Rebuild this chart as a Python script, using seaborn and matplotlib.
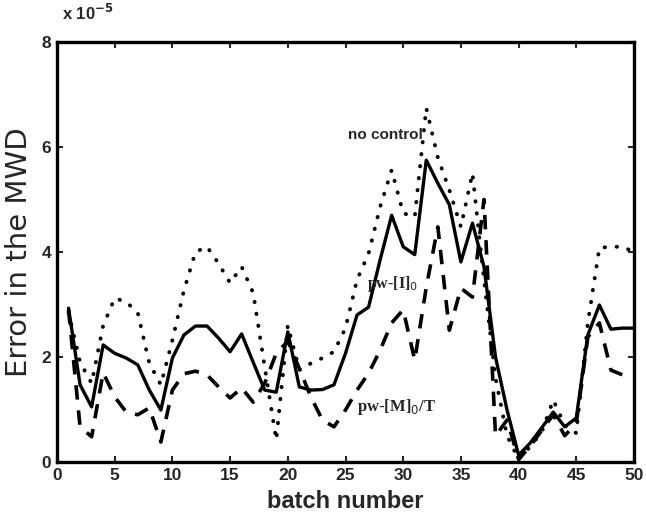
import matplotlib
matplotlib.use("Agg")
import matplotlib.pyplot as plt
import seaborn as sns
import numpy as np
import pandas as pd

batch = list(range(1, 51))

no_control = [2.85, 1.9, 1.5, 2.6, 3.12, 3.05, 2.84, 1.88, 1.47, 2.32,
              3.27, 4.0, 4.1, 3.78, 3.41, 3.72, 3.22, 1.81, 0.42, 2.6,
              1.75, 1.88, 1.98, 2.1, 2.55, 3.47, 3.97, 4.86, 5.56, 4.74,
              4.67, 6.74, 5.8, 5.18, 4.48, 5.5, 3.47, 1.6, 0.5, 0.05,
              0.29, 0.57, 1.18, 0.7, 0.55, 2.65, 4.08, 4.1, 4.1, 4.0]

pw_I0 = [2.93, 1.47, 1.05, 2.23, 2.07, 1.98, 1.85, 1.37, 0.99, 1.98,
         2.42, 2.59, 2.59, 2.36, 2.10, 2.44, 1.90, 1.37, 1.33, 2.48,
         1.43, 1.37, 1.38, 1.47, 2.07, 2.80, 2.95, 3.85, 4.70, 4.10,
         3.95, 5.75, 5.31, 4.90, 3.81, 4.55, 3.72, 2.00, 0.99, 0.13,
         0.36, 0.65, 0.95, 0.67, 0.84, 2.42, 2.99, 2.53, 2.55, 2.55]

pw_M0T = [2.9, 0.67, 0.48, 1.7, 1.24, 0.95, 0.9, 1.03, 0.38, 1.37,
          1.68, 1.73, 1.66, 1.43, 1.22, 1.41, 1.14, 1.5, 2.07, 2.3,
          1.78, 1.24, 0.8, 0.67, 0.99, 1.37, 1.69, 2.13, 2.65, 2.9,
          1.94, 3.33, 4.48, 2.51, 3.31, 3.14, 5.0, 0.5, 0.8, 0.05,
          0.3, 0.6, 0.9, 0.5, 0.74, 2.38, 2.65, 1.75, 1.66, 1.66]

xticks = [0, 5, 10, 15, 20, 25, 30, 35, 40, 45, 50]
yticks = [0, 2, 4, 6, 8]

sns.set_style("white")
plt.rcParams['font.family'] = ['Liberation Sans', 'DejaVu Sans']

df = pd.DataFrame({"batch": batch, "no control": no_control,
                   "pw-I0": pw_I0, "pw-M0T": pw_M0T})

fig = plt.figure(figsize=(6.46, 5.14), dpi=100)
ax = fig.add_axes([57/646, 1-462/514, (634-57)/646, (462-42)/514])

sns.lineplot(data=df, x="batch", y="no control", ax=ax, color="black",
             linewidth=2.8, linestyle=(0, (0.1, 3.0)))
ax.lines[-1].set_dash_capstyle("round")
sns.lineplot(data=df, x="batch", y="pw-I0", ax=ax, color="black", linewidth=2.4)
sns.lineplot(data=df, x="batch", y="pw-M0T", ax=ax, color="black",
             linewidth=2.6, linestyle=(0, (4, 3.0)))

ax.set_xlim(0, 50)
ax.set_ylim(0, 8)
ax.set_xticks(xticks)
ax.set_yticks(yticks)
ax.set_xticklabels([str(t) for t in xticks], fontsize=12.5, fontweight="bold")
ax.set_yticklabels([str(t) for t in yticks], fontsize=12.5, fontweight="bold")
ax.tick_params(direction="in", length=4, width=1.5, top=True, right=True,
               bottom=True, left=True, pad=4)
for s in ax.spines.values():
    s.set_linewidth(2.4)
    s.set_color("black")
    s.set_visible(True)

ax.set_xlabel("batch number", fontsize=17, fontweight="bold", labelpad=5)
ax.set_ylabel("Error in the MWD", fontsize=21, family="DejaVu Sans", labelpad=6)

fig.text(62/646, 1-13/514, r"x 10$^{\mathbf{-5}}$", fontsize=12, fontweight="bold",
         ha="left", va="center")

ax.text(25.2, 6.23, "no control", fontsize=11, fontweight="bold", ha="left",
        va="center")
ax.text(26.9, 3.4, r"pw-[I]$_0$", fontsize=11.5, family="Liberation Serif",
        fontweight="bold", ha="left", va="center")
ax.text(26.0, 1.05, r"pw-[M]$_0$/T", fontsize=12, family="Liberation Serif",
        fontweight="bold", ha="left", va="center")

fig.savefig("out.png", dpi=100)
